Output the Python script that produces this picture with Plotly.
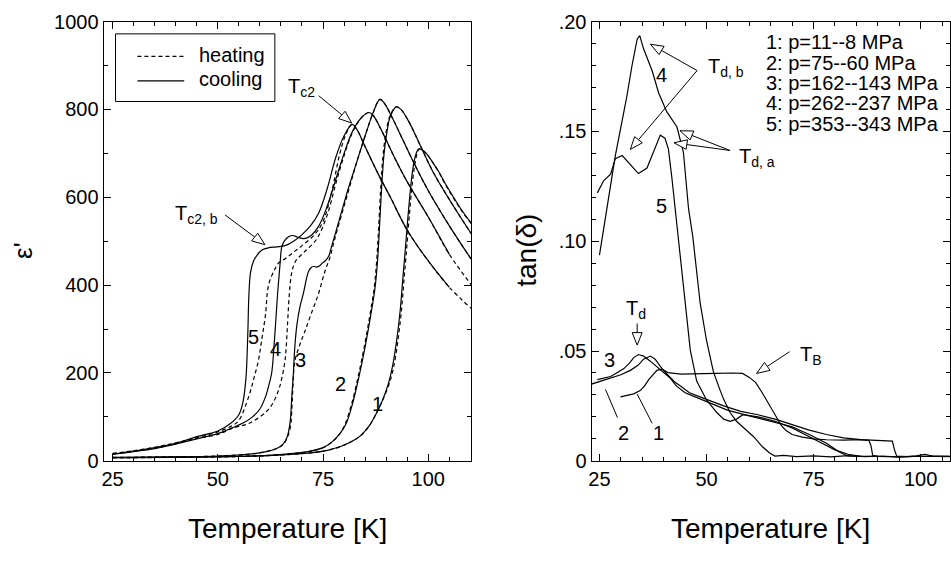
import plotly.graph_objects as go

FONT = "Liberation Sans, Arial, sans-serif"

# ---------------- left panel: eps' vs T (heating dashed / cooling solid) -------------
c1_T = [25, 35, 45, 55, 62, 68, 72, 76, 79, 82, 84, 86, 87.5, 89, 90.5, 91.5, 92.5, 93.3, 94, 94.7, 95.3, 96, 96.6, 97.2, 97.7, 98.5, 99.5, 101, 102.5, 104, 106, 108, 110.2]
c1_E = [7, 8, 9, 10, 12, 15, 18, 24, 32, 45, 58, 80, 105, 135, 175, 215, 275, 340, 420, 500, 570, 640, 680, 702, 710, 708, 700, 680, 658, 632, 600, 570, 541]
h1_T = [25, 35, 45, 55, 62, 68, 72, 76, 79, 82, 84, 86, 87.5, 89, 90.7, 91.8, 92.8, 93.6, 94.3, 95, 95.6, 96.3, 96.9, 97.4, 97.9, 98.7, 99.7, 101, 102.5, 104, 106, 108, 110.2]
h1_E = [7, 8, 9, 10, 12, 15, 18, 24, 32, 45, 58, 80, 105, 135, 175, 215, 275, 340, 420, 500, 570, 640, 680, 702, 710, 707, 698, 680, 657, 630, 598, 568, 540]

c2_T = [25, 40, 55, 63, 68, 72, 75, 77, 79, 80.5, 82, 83.5, 85, 86.3, 87.3, 87.9, 88.4, 88.9, 89.5, 90.2, 91, 92.4, 93.5, 95.5, 98, 101, 105, 110.2]
c2_E = [7, 8, 10, 13, 17, 22, 30, 42, 62, 85, 130, 190, 260, 330, 390, 450, 530, 620, 700, 750, 785, 806, 800, 770, 720, 660, 595, 517]
h2_T = [25, 40, 55, 63, 68, 72, 75, 77, 79, 80.3, 81.8, 83.3, 84.8, 86.1, 87.1, 87.7, 88.2, 88.7, 89.3, 90.0, 90.9, 92.4, 93.5, 95.5, 98, 101, 105, 110.2]
h2_E = [7, 8, 10, 13, 17, 22, 30, 42, 62, 85, 130, 190, 260, 330, 390, 450, 530, 620, 700, 750, 785, 806, 800, 770, 720, 660, 595, 517]

c3_T = [25, 40, 50, 57, 61, 64, 65.5, 66.5, 67.2, 67.6, 67.9, 68.3, 68.8, 69.5, 70.3, 71.1, 71.6, 72.2, 72.8, 73.5, 74.2, 74.8, 75.5, 76.3, 77, 78, 79.5, 81, 83, 85, 87, 88.5, 89.5, 91.5, 94, 97, 100, 105, 110.2]
c3_E = [8, 9, 11, 15, 20, 28, 38, 55, 90, 150, 190, 260, 310, 350, 380, 416, 432, 440, 443, 441, 444, 450, 455, 465, 487, 520, 570, 620, 680, 740, 795, 823, 815, 780, 730, 670, 615, 535, 459]
h3_T = [25, 40, 50, 57, 61, 64, 65.6, 66.6, 67.3, 67.6, 67.8, 68.0, 68.4, 69.5, 70.7, 72, 73.9, 75.4, 76.6, 77.5, 78.5, 80, 81.5, 83, 85, 87, 88.5, 89.5, 91.5, 94, 97, 100, 105, 110.2]
h3_E = [8, 9, 11, 15, 20, 28, 38, 55, 80, 120, 160, 200, 231, 265, 295, 330, 380, 430, 462, 495, 530, 580, 630, 680, 740, 795, 823, 815, 780, 730, 670, 615, 535, 459]

c4_T = [25, 30, 35, 40, 45, 50, 53.4, 56, 58.1, 60, 61.3, 62.2, 62.8, 63.5, 64.2, 64.8, 65.2, 65.8, 66.8, 67.8, 69, 70.5, 72, 74, 76, 78, 80, 82, 84, 85.9, 87, 89, 92, 95, 100, 105]
c4_E = [15, 21, 28, 38, 50, 62, 75, 86, 99, 118, 145, 175, 200, 280, 380, 450, 487, 500, 510, 513, 509, 506, 512, 535, 580, 640, 700, 750, 780, 793, 785, 750, 690, 635, 555, 470]
h4_T = [25, 30, 35, 40, 45, 50, 53.4, 57.3, 61.3, 63, 64.4, 65.2, 66, 66.5, 67, 67.6, 68.5, 70.5, 73.5, 76, 78, 80, 82, 84, 85.9, 87, 89, 92, 95, 100, 105, 110.2]
h4_E = [16, 22, 29, 39, 51, 60, 74, 85, 110, 130, 160, 188, 231, 300, 380, 430, 455, 475, 505, 560, 630, 695, 748, 780, 793, 785, 750, 690, 635, 555, 470, 401]

c5_T = [25, 30, 35, 40, 45, 50, 53, 55, 56, 56.7, 57.1, 57.4, 57.8, 58.5, 59.3, 60.5, 62, 64, 66, 68, 70, 72, 74, 76, 78, 80, 81.9, 83, 85, 88, 91, 95, 100, 105]
c5_E = [15, 22, 30, 40, 55, 68, 85, 105, 135, 190, 280, 380, 430, 455, 468, 480, 485, 487, 490, 500, 515, 535, 565, 620, 690, 740, 766, 755, 715, 655, 600, 525, 455, 395]
h5_T = [25, 30, 35, 40, 45, 50, 53.4, 55, 57.3, 58.5, 59.7, 60.5, 61.3, 62.1, 63.6, 64.4, 66, 68, 70, 73, 75, 77, 79, 80.5, 81.9, 83, 85, 88, 91, 95, 100, 105, 110.2]
h5_E = [17, 23, 31, 41, 53, 66, 80, 92, 145, 185, 231, 280, 330, 402, 437, 450, 460, 475, 490, 515, 545, 610, 700, 745, 766, 755, 715, 655, 600, 525, 455, 395, 347]

# ---------------- right panel: tan(delta) vs T -------------
r1_T = [29.9, 31.5, 33, 34.5, 35.5, 36.5, 37.5, 38.4, 39.6, 41, 44, 48, 52, 56, 58.4, 60, 61.5, 63, 63.9, 65, 66.2, 67.5, 68.5, 70, 72.4, 75, 78, 82, 85.6, 87.9, 88.4, 88.8, 90, 95, 100, 104, 106.8]
r1_D = [.0291, .0298, .0305, .032, .034, .037, .0395, .0412, .0417, .0402, .0395, .0395, .0398, .0400, .0398, .038, .0356, .031, .0279, .024, .020, .016, .0139, .012, .0108, .0100, .0096, .0094, .0097, .0093, .0070, .0025, .0020, .0018, .0021, .0019, .0020]
r2_T = [22.9, 25, 27.6, 30, 32.2, 34, 35.3, 36.9, 38, 39.6, 41, 42.5, 44, 46, 50, 54, 58, 62, 66, 70, 74, 78, 82, 86, 90, 93.4, 93.9, 94.4, 97, 100, 104, 106.8]
r2_D = [.0348, .0362, .0377, .0392, .0412, .0435, .0463, .0477, .0463, .042, .039, .036, .034, .031, .028, .025, .0225, .021, .019, .0165, .014, .012, .0105, .0097, .0093, .0090, .0050, .0022, .0019, .0021, .0020, .0019]
r3_T = [24.5, 26, 27.6, 29, 30.7, 32, 33, 34.1, 35.3, 36.8, 38.4, 40, 41.5, 43, 45, 47.5, 50, 55, 60, 65, 70, 74, 78, 81, 83, 86, 90]
r3_D = [.037, .0378, .0384, .040, .042, .0445, .047, .0484, .0477, .0455, .0427, .040, .0377, .034, .031, .029, .027, .023, .0205, .018, .0155, .012, .008, .004, .0022, .002, .0021]
r4_T = [25, 26.8, 28.7, 30.7, 31.4, 32.6, 33.8, 34.4, 35.3, 37.3, 38.8, 40.7, 43.1, 44.6, 45.8, 46.8, 47.7, 48.5, 50, 51.6, 53, 54, 55.5, 57, 59, 61, 63, 64.8, 66, 68, 71, 75, 79, 83, 87, 91, 95, 99, 101, 103, 106.8]
r4_D = [.0937, .1148, .139, .159, .166, .180, .192, .1936, .1876, .1776, .1676, .159, .152, .1405, .1148, .102, .087, .072, .0548, .0406, .033, .028, .022, .018, .0145, .011, .0065, .0035, .0022, .0025, .0019, .0023, .0018, .0024, .0019, .0022, .0017, .0023, .0030, .0020, .0020]
r5_T = [24.5, 26, 27.6, 28.7, 30.3, 32.2, 34.1, 36.1, 37.6, 39.2, 40.3, 41.1, 41.9, 42.7, 43.5, 44.3, 45, 46.2, 47.7, 50, 52.4, 54, 55.5, 57, 58.5, 62, 66, 70, 74, 77, 80, 83, 86]
r5_D = [.122, .1276, .1305, .1376, .139, .1348, .1308, .1333, .1405, .1483, .1469, .1419, .129, .1148, .100, .085, .072, .0505, .0363, .0277, .022, .019, .018, .019, .021, .020, .018, .0150, .0110, .0080, .0050, .0030, .0020]

legend_right = ["1: p=11--8 MPa", "2: p=75--60 MPa", "3: p=162--143 MPa",
                "4: p=262--237 MPa", "5: p=353--343 MPa"]

# ---------------- geometry (pixels of the 951x567 page) -------------
W, H = 951, 567
LPX = (101, 470); RPX = (591, 951); PY = (11, 468)
LX = (22.87, 110.15); RX = (23.14, 106.86)
TITLE_Y = 538


def fy(f):
    return PY[0] + f * (PY[1] - PY[0])


def paper(px, py):
    return px / W, 1 - py / H


def lpix(t, v):
    return (LPX[0] + (t - LX[0]) / (LX[1] - LX[0]) * (LPX[1] - LPX[0]),
            PY[1] - v / 1000 * (PY[1] - PY[0]))


def rpix(t, v):
    return (RPX[0] + (t - RX[0]) / (RX[1] - RX[0]) * (RPX[1] - RPX[0]),
            PY[1] - v / 0.2 * (PY[1] - PY[0]))


fig = go.Figure()
line_solid = dict(color="black", width=1.2)
line_dash = dict(color="black", width=1.2, dash="4px,3px")

for T, E in [(h1_T, h1_E), (h2_T, h2_E), (h3_T, h3_E), (h4_T, h4_E), (h5_T, h5_E)]:
    fig.add_trace(go.Scatter(x=T, y=E, mode="lines", line=line_dash, line_shape="spline",
                             showlegend=False, xaxis="x", yaxis="y", hoverinfo="skip"))
for T, E in [(c1_T, c1_E), (c2_T, c2_E), (c3_T, c3_E), (c4_T, c4_E), (c5_T, c5_E)]:
    fig.add_trace(go.Scatter(x=T, y=E, mode="lines", line=line_solid, line_shape="spline",
                             showlegend=False, xaxis="x", yaxis="y", hoverinfo="skip"))
for T, D in [(r1_T, r1_D), (r2_T, r2_D), (r3_T, r3_D), (r4_T, r4_D), (r5_T, r5_D)]:
    fig.add_trace(go.Scatter(x=T, y=D, mode="lines", line=line_solid,
                             showlegend=False, xaxis="x2", yaxis="y2", hoverinfo="skip"))

shapes = []
annotations = []


def hollow_arrow(tail, tip, length=13, half=5):
    (x0, y0), (x1, y1) = tail, tip
    dx, dy = x1 - x0, y1 - y0
    n = (dx * dx + dy * dy) ** 0.5
    ux, uy = dx / n, dy / n
    bx, by = x1 - ux * length, y1 - uy * length
    px_, py_ = -uy * half, ux * half
    a = paper(x0, y0); b = paper(bx, by)
    shapes.append(dict(type="line", xref="paper", yref="paper", x0=a[0], y0=a[1], x1=b[0], y1=b[1],
                       line=dict(color="black", width=1)))
    pts = [paper(x1, y1), paper(bx + px_, by + py_), paper(bx - px_, by - py_)]
    path = "M {} {} L {} {} L {} {} Z".format(pts[0][0], pts[0][1], pts[1][0], pts[1][1], pts[2][0], pts[2][1])
    shapes.append(dict(type="path", xref="paper", yref="paper", path=path,
                       line=dict(color="black", width=1), fillcolor="white"))


def plain_line(p0, p1):
    a = paper(*p0); b = paper(*p1)
    shapes.append(dict(type="line", xref="paper", yref="paper", x0=a[0], y0=a[1], x1=b[0], y1=b[1],
                       line=dict(color="black", width=1)))


def text(px, py, s, size=20, xanchor="center", angle=0):
    x, y = paper(px, py)
    annotations.append(dict(x=x, y=y, xref="paper", yref="paper", text=s, showarrow=False,
                            xanchor=xanchor, yanchor="middle", textangle=angle,
                            font=dict(family=FONT, size=size, color="black")))


# left annotations
text(*lpix(70.0, 850), "T<sub>c2</sub>", 20)
hollow_arrow(lpix(74.0, 831), lpix(81.8, 769))
text(*lpix(45.0, 560), "T<sub>c2, b</sub>", 20)
hollow_arrow(lpix(51.7, 560), lpix(61.2, 492))
for lab, t, v in [("5", 58.5, 282), ("4", 63.8, 254), ("3", 69.7, 230), ("2", 79.2, 176), ("1", 88.0, 130)]:
    text(*lpix(t, v), lab, 20)

# left legend (heating/cooling)
b0 = paper(113, fy(0.028)); b1 = paper(273, fy(0.182))
shapes.append(dict(type="rect", xref="paper", yref="paper", x0=b0[0], y0=b0[1], x1=b1[0], y1=b1[1],
                   line=dict(color="black", width=1), fillcolor="white", layer="below"))
for f, dash in [(0.079, "4px,3px"), (0.135, "solid")]:
    a = paper(135, fy(f)); b = paper(182, fy(f))
    shapes.append(dict(type="line", xref="paper", yref="paper", x0=a[0], y0=a[1], x1=b[0], y1=b[1],
                       line=dict(color="black", width=1.2, dash=dash)))
text(195, fy(0.075), "heating", 20, "left")
text(195, fy(0.130), "cooling", 20, "left")

# right annotations
text(*rpix(54.5, .179), "T<sub>d, b</sub>", 20)
hollow_arrow(rpix(47.8, .1777), rpix(36.9, .1897))
hollow_arrow(rpix(47.8, .1777), rpix(32.2, .1418))
text(*rpix(61.7, .1383), "T<sub>d, a</sub>", 20)
hollow_arrow(rpix(55.5, .1413), rpix(43.8, .1503))
hollow_arrow(rpix(55.5, .1413), rpix(42.4, .1448))
text(*rpix(33.6, .0690), "T<sub>d</sub>", 20)
hollow_arrow(rpix(33.8, .0625), rpix(33.8, .0527))
text(*rpix(74.5, .0480), "T<sub>B</sub>", 20)
hollow_arrow(rpix(69.4, .0497), rpix(61.7, .0398))
for lab, t, v in [("4", 39.4, .1756), ("5", 39.4, .116), ("3", 27.3, .0458), ("2", 30.6, .0128), ("1", 38.7, .0128)]:
    text(*rpix(t, v), lab, 20)
plain_line(rpix(26.4, .0325), rpix(29.2, .0197))
plain_line(rpix(33.8, .0304), rpix(37.3, .0171))
for i, s in enumerate(legend_right):
    text(764, fy(0.047 + i * 0.0464), s, 20, "left")

# axis titles
text((LPX[0] + LPX[1]) / 2, TITLE_Y, "Temperature [K]", 28)
text((RPX[0] + RPX[1]) / 2, TITLE_Y, "Temperature [K]", 28)
text(20, fy(0.52), "ε'", 26, angle=-90)
text(526, fy(0.52), "tan(δ)", 28, angle=-90)

ax_common = dict(showline=True, linecolor="black", linewidth=1, mirror="allticks", ticks="inside",
                 ticklen=7, tickcolor="black", tickwidth=1, showgrid=False, zeroline=False,
                 tickfont=dict(family=FONT, size=20, color="black"))

ldom = [LPX[0] / W, LPX[1] / W]
rdom = [RPX[0] / W, RPX[1] / W]
ydom = [1 - PY[1] / H, 1 - PY[0] / H]

fig.update_layout(
    width=W, height=H, autosize=False, margin=dict(l=0, r=0, t=0, b=0),
    paper_bgcolor="white", plot_bgcolor="white", showlegend=False,
    xaxis=dict(domain=ldom, range=list(LX), tick0=25, dtick=25, anchor="y",
               minor=dict(ticks="inside", ticklen=4, tickcolor="black", tick0=25, dtick=5), **ax_common),
    yaxis=dict(domain=ydom, range=[0, 1000], tick0=0, dtick=200, anchor="x",
               minor=dict(ticks="inside", ticklen=4, tickcolor="black", dtick=100), **ax_common),
    xaxis2=dict(domain=rdom, range=list(RX), tick0=25, dtick=25, anchor="y2",
                minor=dict(ticks="inside", ticklen=4, tickcolor="black", tick0=25, dtick=5), **ax_common),
    yaxis2=dict(domain=ydom, range=[0, 0.2], tickvals=[0, .05, .10, .15, .20],
                ticktext=["0", ".05", ".10", ".15", ".20"], anchor="x2",
                minor=dict(ticks="inside", ticklen=4, tickcolor="black", dtick=0.01), **ax_common),
    shapes=shapes, annotations=annotations,
)

fig.write_html("out.html")
